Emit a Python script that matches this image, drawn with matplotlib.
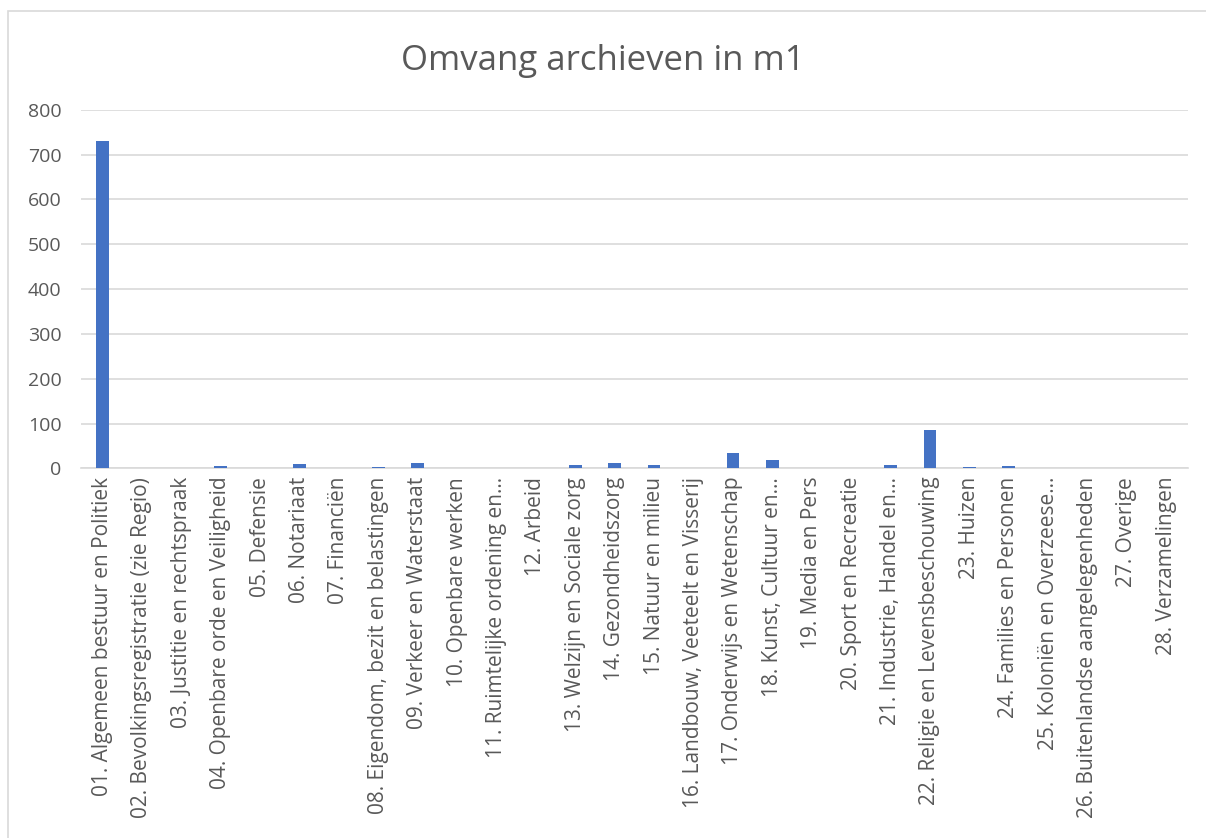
import numpy as np
import matplotlib.pyplot as plt
from matplotlib.patches import Rectangle

categories = [
    "01. Algemeen bestuur en Politiek",
    "02. Bevolkingsregistratie (zie Regio)",
    "03. Justitie en rechtspraak",
    "04. Openbare orde en Veiligheid",
    "05. Defensie",
    "06. Notariaat",
    "07. Financiën",
    "08. Eigendom, bezit en belastingen",
    "09. Verkeer en Waterstaat",
    "10. Openbare werken",
    "11. Ruimtelijke ordening en…",
    "12. Arbeid",
    "13. Welzijn en Sociale zorg",
    "14. Gezondheidszorg",
    "15. Natuur en milieu",
    "16. Landbouw, Veeteelt en Visserij",
    "17. Onderwijs en Wetenschap",
    "18. Kunst, Cultuur en…",
    "19. Media en Pers",
    "20. Sport en Recreatie",
    "21. Industrie, Handel en…",
    "22. Religie en Levensbeschouwing",
    "23. Huizen",
    "24. Families en Personen",
    "25. Koloniën en Overzeese…",
    "26. Buitenlandse aangelegenheden",
    "27. Overige",
    "28. Verzamelingen",
]
omvang = [731, 0, 1, 5, 0, 11, 0, 3, 12, 0, 0.5, 0, 7, 12,
          8, 0.5, 35, 19, 0.5, 1, 7, 86, 4, 5, 0, 0.5, 0, 0.5]

plt.rcParams['font.family'] = ['Open Sans', 'DejaVu Sans']
grey = '#595959'

fig = plt.figure(figsize=(12.06, 8.38), dpi=100)
ax = fig.add_axes([0.067, 0.441, 0.918, 0.428])

x = np.arange(len(categories))
ax.bar(x, omvang, width=0.32, color='#4472C4', zorder=3)

ax.set_ylim(0, 800)
ax.set_xlim(-0.55, len(categories) - 0.45)
ax.set_yticks(np.arange(0, 801, 100))
ax.yaxis.grid(True, color='#d9d9d9', linewidth=1.2, zorder=0)
for s in ['top', 'right', 'left']:
    ax.spines[s].set_visible(False)
ax.spines['bottom'].set_color('#d9d9d9')
ax.spines['bottom'].set_linewidth(1.2)
ax.tick_params(axis='both', length=0, colors=grey, labelsize=14)
ax.tick_params(axis='y', pad=14)
ax.tick_params(axis='x', pad=6)
ax.set_xticks(x)
ax.set_xticklabels(categories, rotation=90, color=grey, fontsize=15)

fig.suptitle('Omvang archieven in m1', x=0.5, y=0.948, fontsize=25, color=grey)

# chart area border
fig.patches.append(Rectangle((0.007, -0.01), 1.0, 0.997, transform=fig.transFigure,
                             fill=False, edgecolor='#d9d9d9', linewidth=1.2))

fig.savefig('out.png', dpi=100)
